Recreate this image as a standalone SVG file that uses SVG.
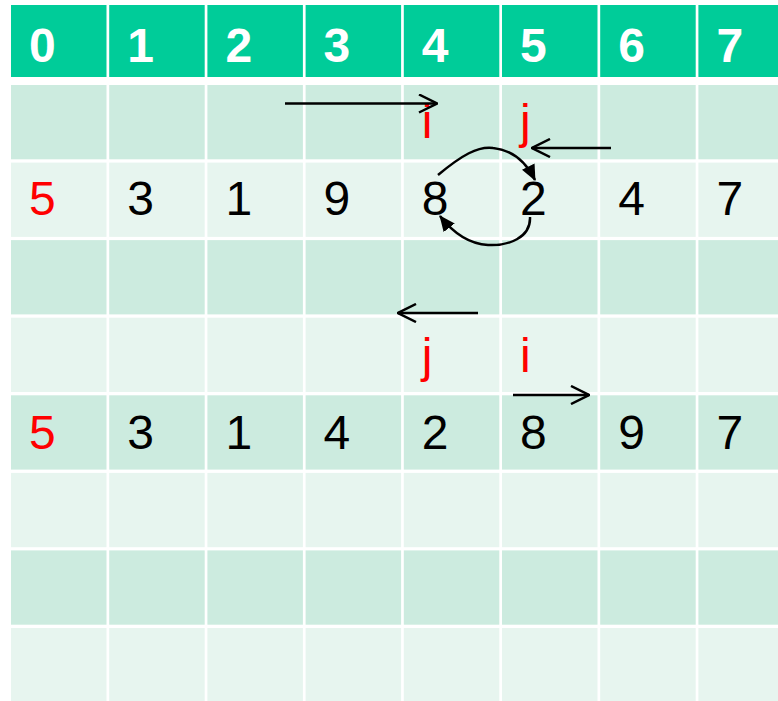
<svg xmlns="http://www.w3.org/2000/svg" width="778" height="701" viewBox="0 0 778 701">
<style>
.hd{fill:#00CC99}
.b1{fill:#CCEBDF}
.b2{fill:#E7F5EF}
.ht{font-family:"Liberation Sans",Arial,sans-serif;font-size:48px;font-weight:bold;fill:#FFFFFF}
.t{font-family:"Liberation Sans",Arial,sans-serif;font-size:48px;fill:#000000}
.r{fill:#FF0000}
.ln{fill:none;stroke:#000;stroke-width:2.5}
</style>
<defs>
<marker id="open" viewBox="0 0 20 20" refX="19" refY="10" markerWidth="20" markerHeight="20" markerUnits="userSpaceOnUse" orient="auto">
<path d="M1,1 L19,10 L1,19" fill="none" stroke="#000" stroke-width="2.5"/>
</marker>
<marker id="fill" viewBox="0 0 16 14" refX="15" refY="7" markerWidth="16" markerHeight="14" markerUnits="userSpaceOnUse" orient="auto">
<path d="M0,0 L16,7 L0,14 Z" fill="#000"/>
</marker>
</defs>
<rect width="778" height="701" fill="#FFFFFF"/>
<g id="header">
<rect class="hd" x="11" y="5" width="95.5" height="72"/>
<rect class="hd" x="109.2" y="5" width="95.5" height="72"/>
<rect class="hd" x="207.4" y="5" width="95.5" height="72"/>
<rect class="hd" x="305.6" y="5" width="95.5" height="72"/>
<rect class="hd" x="403.8" y="5" width="95.5" height="72"/>
<rect class="hd" x="502" y="5" width="95.5" height="72"/>
<rect class="hd" x="600.2" y="5" width="95.5" height="72"/>
<rect class="hd" x="698.4" y="5" width="80" height="72"/>
<text class="ht" x="29" y="62">0</text>
<text class="ht" x="127.2" y="62">1</text>
<text class="ht" x="225.4" y="62">2</text>
<text class="ht" x="323.6" y="62">3</text>
<text class="ht" x="421.8" y="62">4</text>
<text class="ht" x="520" y="62">5</text>
<text class="ht" x="618.2" y="62">6</text>
<text class="ht" x="716.4" y="62">7</text>
</g>
<g id="row1">
<rect class="b1" x="11" y="85" width="95.5" height="74.3"/>
<rect class="b1" x="109.2" y="85" width="95.5" height="74.3"/>
<rect class="b1" x="207.4" y="85" width="95.5" height="74.3"/>
<rect class="b1" x="305.6" y="85" width="95.5" height="74.3"/>
<rect class="b1" x="403.8" y="85" width="95.5" height="74.3"/>
<rect class="b1" x="502" y="85" width="95.5" height="74.3"/>
<rect class="b1" x="600.2" y="85" width="95.5" height="74.3"/>
<rect class="b1" x="698.4" y="85" width="80" height="74.3"/>
<text class="t r" x="421.8" y="138">i</text>
<text class="t r" x="520" y="138">j</text>
</g>
<g id="row2">
<rect class="b2" x="11" y="162.6" width="95.5" height="74.3"/>
<rect class="b2" x="109.2" y="162.6" width="95.5" height="74.3"/>
<rect class="b2" x="207.4" y="162.6" width="95.5" height="74.3"/>
<rect class="b2" x="305.6" y="162.6" width="95.5" height="74.3"/>
<rect class="b2" x="403.8" y="162.6" width="95.5" height="74.3"/>
<rect class="b2" x="502" y="162.6" width="95.5" height="74.3"/>
<rect class="b2" x="600.2" y="162.6" width="95.5" height="74.3"/>
<rect class="b2" x="698.4" y="162.6" width="80" height="74.3"/>
<text class="t r" x="29" y="215">5</text>
<text class="t" x="127.2" y="215">3</text>
<text class="t" x="225.4" y="215">1</text>
<text class="t" x="323.6" y="215">9</text>
<text class="t" x="421.8" y="215">8</text>
<text class="t" x="520" y="215">2</text>
<text class="t" x="618.2" y="215">4</text>
<text class="t" x="716.4" y="215">7</text>
</g>
<g id="row3">
<rect class="b1" x="11" y="240.1" width="95.5" height="74.3"/>
<rect class="b1" x="109.2" y="240.1" width="95.5" height="74.3"/>
<rect class="b1" x="207.4" y="240.1" width="95.5" height="74.3"/>
<rect class="b1" x="305.6" y="240.1" width="95.5" height="74.3"/>
<rect class="b1" x="403.8" y="240.1" width="95.5" height="74.3"/>
<rect class="b1" x="502" y="240.1" width="95.5" height="74.3"/>
<rect class="b1" x="600.2" y="240.1" width="95.5" height="74.3"/>
<rect class="b1" x="698.4" y="240.1" width="80" height="74.3"/>
</g>
<g id="row4">
<rect class="b2" x="11" y="317.7" width="95.5" height="74.3"/>
<rect class="b2" x="109.2" y="317.7" width="95.5" height="74.3"/>
<rect class="b2" x="207.4" y="317.7" width="95.5" height="74.3"/>
<rect class="b2" x="305.6" y="317.7" width="95.5" height="74.3"/>
<rect class="b2" x="403.8" y="317.7" width="95.5" height="74.3"/>
<rect class="b2" x="502" y="317.7" width="95.5" height="74.3"/>
<rect class="b2" x="600.2" y="317.7" width="95.5" height="74.3"/>
<rect class="b2" x="698.4" y="317.7" width="80" height="74.3"/>
<text class="t r" x="421.8" y="372">j</text>
<text class="t r" x="520" y="372">i</text>
</g>
<g id="row5">
<rect class="b1" x="11" y="395.3" width="95.5" height="74.3"/>
<rect class="b1" x="109.2" y="395.3" width="95.5" height="74.3"/>
<rect class="b1" x="207.4" y="395.3" width="95.5" height="74.3"/>
<rect class="b1" x="305.6" y="395.3" width="95.5" height="74.3"/>
<rect class="b1" x="403.8" y="395.3" width="95.5" height="74.3"/>
<rect class="b1" x="502" y="395.3" width="95.5" height="74.3"/>
<rect class="b1" x="600.2" y="395.3" width="95.5" height="74.3"/>
<rect class="b1" x="698.4" y="395.3" width="80" height="74.3"/>
<text class="t r" x="29" y="449">5</text>
<text class="t" x="127.2" y="449">3</text>
<text class="t" x="225.4" y="449">1</text>
<text class="t" x="323.6" y="449">4</text>
<text class="t" x="421.8" y="449">2</text>
<text class="t" x="520" y="449">8</text>
<text class="t" x="618.2" y="449">9</text>
<text class="t" x="716.4" y="449">7</text>
</g>
<g id="row6">
<rect class="b2" x="11" y="472.9" width="95.5" height="74.3"/>
<rect class="b2" x="109.2" y="472.9" width="95.5" height="74.3"/>
<rect class="b2" x="207.4" y="472.9" width="95.5" height="74.3"/>
<rect class="b2" x="305.6" y="472.9" width="95.5" height="74.3"/>
<rect class="b2" x="403.8" y="472.9" width="95.5" height="74.3"/>
<rect class="b2" x="502" y="472.9" width="95.5" height="74.3"/>
<rect class="b2" x="600.2" y="472.9" width="95.5" height="74.3"/>
<rect class="b2" x="698.4" y="472.9" width="80" height="74.3"/>
</g>
<g id="row7">
<rect class="b1" x="11" y="550.4" width="95.5" height="74.3"/>
<rect class="b1" x="109.2" y="550.4" width="95.5" height="74.3"/>
<rect class="b1" x="207.4" y="550.4" width="95.5" height="74.3"/>
<rect class="b1" x="305.6" y="550.4" width="95.5" height="74.3"/>
<rect class="b1" x="403.8" y="550.4" width="95.5" height="74.3"/>
<rect class="b1" x="502" y="550.4" width="95.5" height="74.3"/>
<rect class="b1" x="600.2" y="550.4" width="95.5" height="74.3"/>
<rect class="b1" x="698.4" y="550.4" width="80" height="74.3"/>
</g>
<g id="row8">
<rect class="b2" x="11" y="628" width="95.5" height="73"/>
<rect class="b2" x="109.2" y="628" width="95.5" height="73"/>
<rect class="b2" x="207.4" y="628" width="95.5" height="73"/>
<rect class="b2" x="305.6" y="628" width="95.5" height="73"/>
<rect class="b2" x="403.8" y="628" width="95.5" height="73"/>
<rect class="b2" x="502" y="628" width="95.5" height="73"/>
<rect class="b2" x="600.2" y="628" width="95.5" height="73"/>
<rect class="b2" x="698.4" y="628" width="80" height="73"/>
</g>
<g id="connectors">
<line class="ln" x1="285" y1="103.5" x2="437" y2="103.5" marker-end="url(#open)"/>
<line class="ln" x1="611" y1="148" x2="532" y2="148" marker-end="url(#open)"/>
<line class="ln" x1="478" y1="313" x2="398" y2="313" marker-end="url(#open)"/>
<line class="ln" x1="513" y1="395" x2="589" y2="395" marker-end="url(#open)"/>
<path class="ln" d="M438,175 C462,155 478,146 493,148 C512,150 526,162 535,180" marker-end="url(#fill)"/>
<path class="ln" d="M530,217 C531,238 508,246 488,245 C470,244 454,234 440,216" marker-end="url(#fill)"/>
</g>
</svg>
